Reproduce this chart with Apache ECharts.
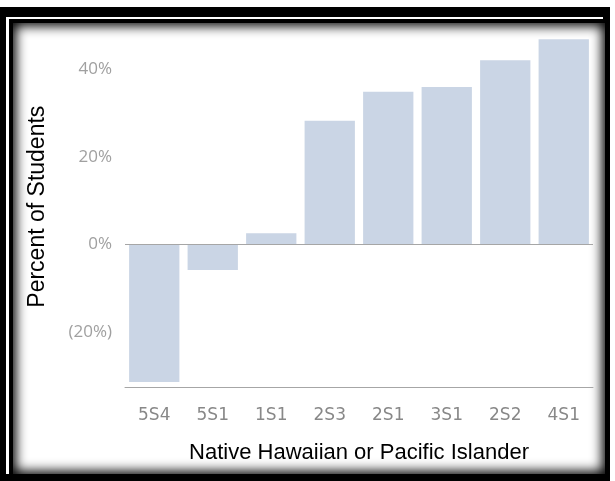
<!DOCTYPE html>
<html>
<head>
<meta charset="utf-8">
<script src="https://cdn.jsdelivr.net/npm/echarts@6/dist/echarts.min.js"></script>
<style>
  html, body { margin: 0; padding: 0; background: #fff; }
  .page { position: relative; width: 615px; height: 481px; overflow: hidden; }
  .outer { position: absolute; left: 0; top: 7px; width: 610px; height: 474px; background: #000; }
  .hl { position: absolute; left: 6px; top: 17px; width: 597px; height: 457px; background: #fff; }
  .inner { position: absolute; left: 9px; top: 19px; width: 601px; height: 462px; background: #000; }
  .paper { position: absolute; left: 13px; top: 23px; width: 592px; height: 451px; background: #fff;
           box-shadow: inset 0 0 12px 3px #000; }
  #chart { position: absolute; left: 0; top: 0; width: 615px; height: 481px; }
</style>
</head>
<body>
<div class="page">
  <div class="outer"></div>
  <div class="hl"></div>
  <div class="inner"></div>
  <div class="paper"></div>
  <div id="chart"></div>
</div>
<script>
const categories = ['5S4', '5S1', '1S1', '2S3', '2S1', '3S1', '2S2', '4S1']
const percents = [-31.4, -5.8, 2.6, 28.3, 34.9, 36.0, 42.1, 46.9]
const yTicks = [-20, 0, 20, 40]

const chart = echarts.init(document.getElementById('chart'), null, { renderer: 'canvas' })

const fmtPct = v => (v < 0 ? '(' + (-v) + '%)' : v + '%')

chart.setOption({
  backgroundColor: 'transparent',
  animation: false,
  grid: { left: 125, right: 22, top: 25.75, bottom: 93.4 },
  xAxis: {
    type: 'category',
    data: categories,
    name: 'Native Hawaiian or Pacific Islander',
    nameLocation: 'middle',
    nameGap: 54,
    nameTextStyle: { color: '#000', fontFamily: 'Liberation Sans', fontSize: 22 },
    axisLine: { onZero: false, lineStyle: { color: '#a6a6a6', width: 1 } },
    axisTick: { show: false },
    axisLabel: { color: '#888888', fontFamily: 'DejaVu Sans', fontSize: 17, margin: 19 },
  },
  yAxis: {
    type: 'value',
    min: -32.7,
    max: 50,
    name: 'Percent of Students',
    nameLocation: 'middle',
    nameRotate: 90,
    nameGap: 76,
    nameTextStyle: { color: '#000', fontFamily: 'Liberation Sans', fontSize: 23 },
    axisLine: { show: false },
    axisTick: { show: false },
    splitLine: { show: false },
    axisLabel: {
      customValues: yTicks,
      formatter: fmtPct,
      color: '#a0a0a0',
      fontFamily: 'Open Sans',
      fontSize: 17,
      margin: 13,
    },
  },
  series: [{
    type: 'bar',
    data: percents,
    barCategoryGap: '14%',
    itemStyle: { color: '#cad5e5' },
    markLine: {
      silent: true,
      symbol: 'none',
      label: { show: false },
      lineStyle: { color: '#a6a6a6', type: 'solid', width: 1 },
      data: [{ yAxis: 0 }],
    },
  }],
})
</script>
</body>
</html>
